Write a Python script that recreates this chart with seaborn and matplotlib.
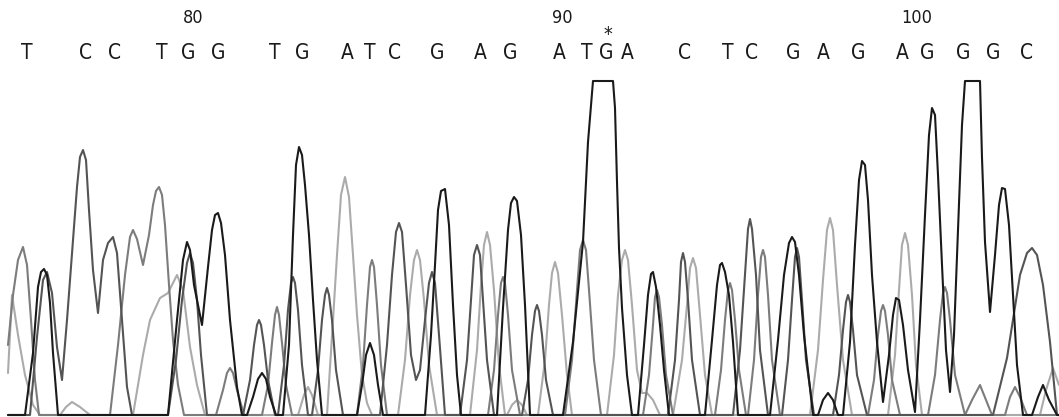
import matplotlib
matplotlib.use("Agg")
import matplotlib.pyplot as plt
import seaborn as sns
import pandas as pd

# ---- trace data (scan position, signal intensity) ----
G_x = [8, 25, 33, 38, 41, 44, 47, 50, 53, 58,
       168, 177, 183, 187, 190, 194, 202, 208, 212, 215, 218, 221, 225, 230, 237, 242,
       247, 253, 258, 262, 266, 270, 276,
       283, 289, 293, 296, 299, 302, 305, 309, 313, 317, 322,
       357, 362, 366, 370, 374, 378, 383,
       425, 431, 435, 438, 441, 445, 449, 453, 457, 461,
       497, 503, 508, 511, 514, 517, 521, 525, 530,
       563, 573, 583, 588, 593, 613, 615, 617, 619, 622, 627, 632,
       638, 644, 648, 651, 653, 656, 660, 664, 669,
       705, 712, 717, 720, 722, 725, 729, 733, 738,
       770, 778, 784, 789, 792, 795, 799, 804, 813,
       818, 823, 828, 833, 838,
       843, 850, 855, 859, 862, 865, 868, 872, 877, 883, 889, 893, 896, 899, 903, 908, 915,
       920, 925, 929, 932, 935, 938, 942, 946, 950, 954, 959, 962, 965, 980, 982, 985, 990,
       995, 999, 1002, 1005, 1009, 1013, 1017, 1023,
       1032, 1038, 1043, 1049, 1057, 1059]
G_y = [0, 0, 62, 128, 143, 146, 140, 112, 62, 0,
       0, 95, 155, 173, 165, 130, 90, 148, 185, 200, 202, 192, 160, 95, 28, 0,
       0, 18, 36, 42, 36, 18, 0,
       0, 70, 180, 250, 268, 260, 230, 180, 115, 55, 0,
       0, 30, 60, 72, 60, 30, 0,
       0, 80, 150, 205, 224, 226, 190, 110, 40, 0,
       0, 107, 185, 212, 218, 214, 180, 110, 0,
       0, 73, 173, 273, 334, 334, 307, 233, 167, 107, 40, 0,
       0, 70, 120, 141, 143, 128, 90, 45, 0,
       0, 75, 130, 150, 152, 143, 120, 73, 0,
       0, 75, 140, 172, 178, 173, 140, 80, 0,
       0, 15, 22, 15, 0,
       0, 73, 170, 235, 254, 250, 215, 140, 73, 13, 60, 100, 117, 115, 90, 45, 3,
       95, 200, 280, 307, 300, 240, 150, 65, 23, 80, 210, 290, 334, 334, 257, 173, 103,
       160, 210, 227, 226, 190, 120, 50, 0,
       0, 18, 30, 15, 0, 0]

C_x = [8, 30, 37, 43, 47, 52, 57, 62, 67, 72, 77, 80, 83, 86, 89, 93, 98,
       103, 108, 113, 117, 122, 127, 132,
       168, 176, 182, 187, 190, 193, 197, 201, 207,
       243, 250, 254, 257, 259, 261, 264, 268, 275,
       278, 284, 288, 291, 293, 295, 298, 302, 308,
       312, 318, 322, 325, 327, 329, 332, 336, 343,
       380, 387, 392, 396, 399, 402, 406, 411, 416, 420, 425, 429, 432, 435, 439, 445,
       460, 467, 471, 474, 477, 480, 483, 487, 494,
       522, 528, 532, 535, 537, 539, 542, 546, 553,
       668, 675, 679, 681, 683, 685, 688, 692, 700,
       733, 740, 745, 748, 750, 752, 756, 760, 768,
       782, 788, 792, 795, 797, 799, 802, 806, 814,
       833, 839, 843, 846, 848, 850, 853, 857, 867,
       993, 1007, 1020, 1027, 1032, 1037, 1043, 1050, 1057, 1059]
C_y = [0, 0, 78, 135, 143, 122, 68, 35, 95, 162, 228, 258, 265, 255, 205, 145, 102,
       155, 172, 178, 162, 95, 28, 0,
       0, 55, 115, 152, 162, 152, 115, 60, 0,
       0, 35, 70, 90, 95, 90, 70, 35, 0,
       0, 50, 105, 132, 138, 132, 105, 50, 0,
       0, 45, 95, 120, 127, 120, 95, 45, 0,
       0, 70, 140, 183, 192, 183, 130, 60, 35, 45, 95, 132, 143, 132, 80, 0,
       0, 55, 115, 160, 170, 160, 115, 55, 0,
       0, 35, 80, 104, 110, 104, 80, 35, 0,
       0, 55, 115, 153, 162, 153, 115, 55, 0,
       0, 65, 140, 186, 196, 186, 140, 65, 0,
       0, 55, 115, 158, 167, 158, 115, 55, 0,
       0, 40, 85, 113, 120, 113, 85, 40, 0,
       0, 57, 140, 162, 167, 160, 130, 73, 0, 0]

T_x = [8, 13, 18, 23, 27, 31, 35, 39,
       110, 118, 125, 130, 133, 137, 143, 149, 153, 156, 159, 162, 165, 169, 173, 178, 184,
       216, 223, 227, 230, 233, 237, 244,
       262, 268, 272, 275, 277, 279, 282, 286, 292,
       357, 363, 367, 370, 372, 374, 377, 381, 387,
       488, 494, 498, 501, 503, 505, 508, 512, 520,
       565, 572, 577, 580, 583, 586, 589, 594, 601,
       643, 649, 653, 655, 657, 659, 662, 666, 673,
       715, 721, 725, 728, 730, 732, 735, 739, 746,
       748, 754, 758, 761, 763, 765, 768, 772, 780,
       868, 874, 878, 881, 883, 885, 888, 892, 900,
       928, 935, 940, 943, 945, 947, 950, 955, 965, 972, 980, 986, 992,
       1005, 1010, 1015, 1020, 1027, 1059]
T_y = [70, 120, 155, 168, 150, 95, 35, 0,
       0, 70, 140, 178, 185, 176, 150, 180, 210, 224, 228, 220, 190, 130, 75, 30, 0,
       0, 25, 42, 47, 42, 25, 0,
       0, 30, 72, 100, 108, 100, 72, 30, 0,
       0, 50, 110, 148, 155, 148, 110, 50, 0,
       0, 45, 100, 132, 138, 132, 100, 45, 0,
       0, 55, 125, 165, 175, 165, 125, 55, 0,
       0, 40, 90, 118, 125, 118, 90, 40, 0,
       0, 45, 95, 125, 132, 125, 95, 45, 0,
       0, 55, 120, 158, 165, 158, 120, 55, 0,
       0, 35, 80, 104, 110, 104, 80, 35, 0,
       0, 40, 95, 122, 128, 122, 95, 40, 0, 15, 30, 15, 0,
       0, 18, 28, 18, 0, 0]

A_x = [8, 12, 18, 25, 33, 40,
       60, 66, 72, 80, 90,
       133, 143, 150, 160, 168, 177, 183, 190, 197, 205,
       298, 304, 308, 312, 318,
       327, 333, 337, 341, 345, 349, 353, 357, 362, 367, 372,
       398, 405, 410, 414, 417, 420, 424, 429, 437,
       470, 477, 481, 484, 487, 490, 494, 499, 505,
       507, 512, 517, 522, 527,
       538, 545, 549, 552, 555, 558, 562, 567, 572,
       607, 614, 618, 622, 625, 628, 632, 637, 642, 647, 653, 660,
       673, 682, 687, 690, 693, 696, 700, 705, 712,
       810, 818, 823, 827, 830, 833, 837, 843, 852,
       888, 895, 899, 902, 905, 908, 912, 916, 922,
       1040, 1046, 1053, 1059]
A_y = [42, 120, 80, 40, 10, 0,
       0, 8, 13, 8, 0,
       0, 60, 95, 117, 122, 140, 125, 68, 30, 0,
       0, 20, 28, 20, 0,
       0, 95, 160, 220, 238, 218, 160, 100, 40, 12, 0,
       0, 55, 120, 155, 165, 155, 115, 50, 0,
       0, 65, 130, 170, 183, 170, 125, 50, 0,
       0, 10, 15, 10, 0,
       0, 55, 110, 142, 153, 142, 100, 40, 0,
       0, 60, 120, 155, 165, 155, 110, 45, 22, 22, 15, 0,
       0, 55, 110, 147, 157, 147, 100, 40, 0,
       0, 65, 135, 185, 197, 185, 130, 55, 0,
       0, 60, 125, 170, 182, 170, 120, 50, 0,
       0, 25, 47, 30]

# ---- base calls ----
base_letters = ["T", "C", "C", "T", "G", "G", "T", "G", "A", "T", "C", "G", "A", "G",
                "A", "T", "G", "A", "C", "T", "C", "G", "A", "G", "A", "G", "G", "G", "C"]
base_pos = [27, 86, 115, 162, 188, 218, 275, 302, 347, 370, 395, 437, 480, 510,
            559, 587, 606, 627, 685, 728, 752, 793, 823, 858, 902, 927, 963, 993, 1027]
tick_labels = ["80", "90", "100"]
tick_pos = [193, 562, 917]
star_pos = [608]

frames = []
for name, xs, ys in [("A", A_x, A_y), ("T", T_x, T_y), ("C", C_x, C_y), ("G", G_x, G_y)]:
    frames.append(pd.DataFrame({"scan": xs, "signal": ys, "base": name}))
df = pd.concat(frames, ignore_index=True)

sns.set_style("white")
plt.rcParams["font.family"] = ["DejaVu Sans"]

fig = plt.figure(figsize=(10.59, 4.17), dpi=100)
ax = fig.add_axes([0, 0, 1, 1])
palette = {"A": "#ababab", "T": "#7c7c7c", "C": "#545454", "G": "#1a1a1a"}
sns.lineplot(data=df, x="scan", y="signal", hue="base", hue_order=["A", "T", "C", "G"],
             palette=palette, sort=False, estimator=None, linewidth=1.5,
             legend=False, ax=ax)
ax.set_xlim(0, 1059)
ax.set_ylim(-2, 415)
ax.axis("off")

txt = dict(ha="center", color="#1a1a1a", fontstretch="condensed")
for lab, p in zip(base_letters, base_pos):
    ax.text(p, 362, lab, fontsize=15, va="center", **txt)
for lab, p in zip(tick_labels, tick_pos):
    ax.text(p, 397, lab, fontsize=13, va="center", **txt)
for p in star_pos:
    ax.text(p, 371, "*", fontsize=14, va="bottom", **txt)

fig.savefig("out.png", dpi=100)
